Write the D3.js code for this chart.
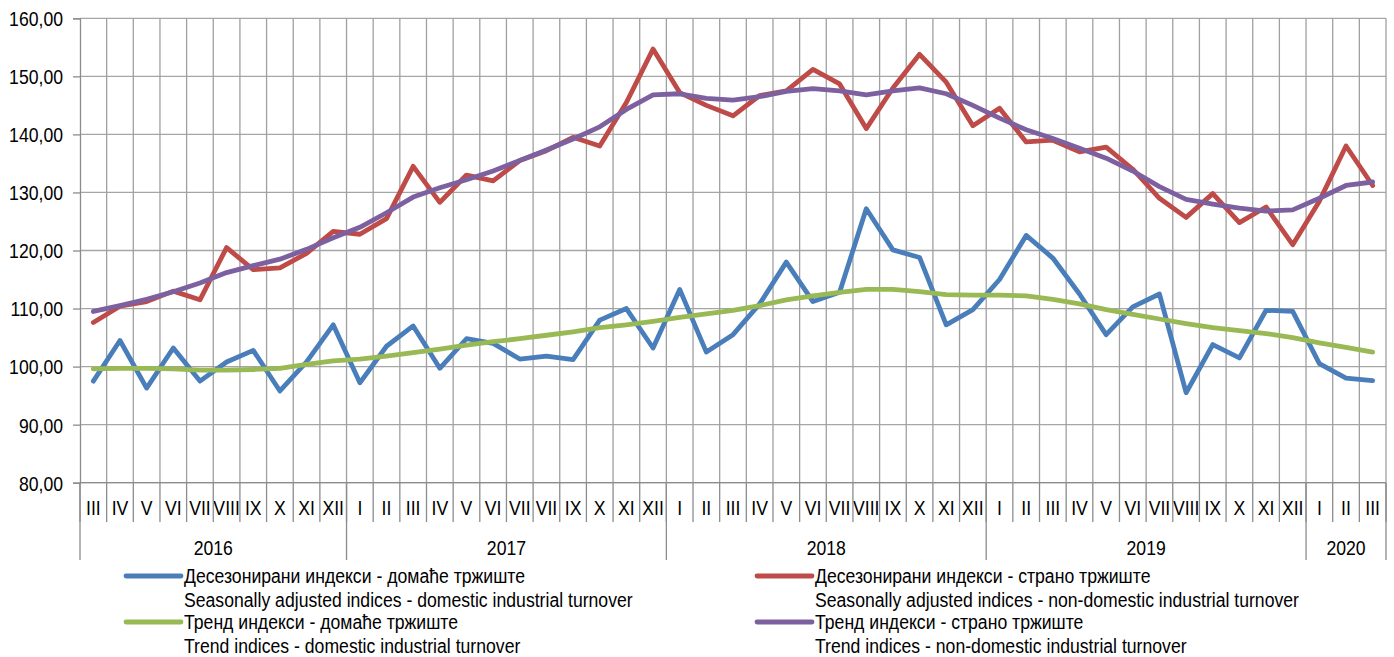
<!DOCTYPE html>
<html><head><meta charset="utf-8">
<script src="https://cdn.jsdelivr.net/npm/d3@7"></script>
<style>
body{margin:0;background:#fff;}
text{font-family:"Liberation Sans Narrow","Arial Narrow","Liberation Sans",sans-serif;fill:#000;}
</style></head><body>
<svg id="c" width="1394" height="657"></svg>
<script>
const months = ["III","IV","V","VI","VII","VIII","IX","X","XI","XII",
 "I","II","III","IV","V","VI","VII","VII","IX","X","XI","XII",
 "I","II","III","IV","V","VI","VII","VIII","IX","X","XI","XII",
 "I","II","III","IV","V","VI","VII","VIII","IX","X","XI","XII",
 "I","II","III"];
const years = [{label:"2016",count:10},{label:"2017",count:12},{label:"2018",count:12},{label:"2019",count:12},{label:"2020",count:3}];
const yTicks = [80,90,100,110,120,130,140,150,160];

const domesticSA = [97.5,104.5,96.3,103.2,97.5,100.8,102.8,95.8,100.8,107.2,
 97.2,103.5,107.0,99.7,104.8,104.0,101.3,101.8,101.2,108.0,110.0,103.2,
 113.3,102.5,105.5,110.8,118.0,111.2,112.8,127.2,120.1,118.8,107.2,109.8,
 115.0,122.6,118.7,112.5,105.5,110.3,112.5,95.5,103.8,101.5,109.7,109.5,
 100.5,98.0,97.6];
const foreignSA = [107.6,110.4,111.2,113.0,111.5,120.5,116.7,117.0,119.5,123.3,
 122.8,125.5,134.5,128.3,133.0,132.0,135.5,137.2,139.5,138.0,145.5,154.7,
 147.2,145.0,143.2,146.7,147.5,151.2,148.7,141.0,148.0,153.8,149.0,141.5,
 144.5,138.7,139.0,137.0,137.8,134.0,129.0,125.7,129.8,124.8,127.5,121.0,
 128.5,138.0,131.2];
const domesticTrend = [99.6,99.7,99.7,99.6,99.4,99.4,99.5,99.7,100.4,101.0,
 101.3,101.8,102.4,103.0,103.7,104.3,104.8,105.4,106.0,106.7,107.2,107.8,
 108.5,109.1,109.7,110.5,111.5,112.2,112.8,113.3,113.3,112.9,112.4,112.3,
 112.3,112.2,111.6,110.8,109.8,109.0,108.2,107.4,106.7,106.2,105.7,105.0,
 104.1,103.3,102.5];
const foreignTrend = [109.5,110.5,111.6,112.9,114.4,116.2,117.4,118.5,120.2,122.2,
 124.0,126.5,129.2,130.8,132.2,133.7,135.5,137.3,139.2,141.3,144.3,146.8,
 147.0,146.2,145.9,146.5,147.4,147.9,147.5,146.8,147.5,148.0,147.0,145.0,
 142.8,140.8,139.3,137.6,135.9,133.7,131.0,128.8,128.0,127.3,126.8,127.0,
 129.0,131.2,131.8];

const series = [
 {name:["Десезонирани индекси - домаће тржиште","Seasonally adjusted indices - domestic industrial turnover"], values:domesticSA, color:"#4a7ebb"},
 {name:["Десезонирани индекси - страно тржиште","Seasonally adjusted indices - non-domestic industrial turnover"], values:foreignSA, color:"#be4b48"},
 {name:["Тренд индекси - домаће тржиште","Trend indices - domestic industrial turnover"], values:domesticTrend, color:"#98b954"},
 {name:["Тренд индекси - страно тржиште","Trend indices - non-domestic industrial turnover"], values:foreignTrend, color:"#7d60a0"}
];

const FS = "21px", SX = 0.84;
const L=80, R=1386, T=18.3, B=482.7;
const svg = d3.select("#c");
const idx = d3.range(months.length);
const xb = d3.scaleBand().domain(idx).range([L,R]).padding(0);
const y = d3.scaleLinear().domain([80,160]).range([B,T]);
const bw = xb.bandwidth();

function ntext(parent, x, yy, str, anchor){
  const g = parent.append("g").attr("transform",`translate(${x},${yy}) scale(${SX},1)`);
  g.append("text").attr("text-anchor",anchor||"start").attr("dy","0.35em").style("font-size",FS).text(str);
  return g;
}

// horizontal gridlines
svg.append("g").selectAll("line").data(yTicks).join("line")
 .attr("x1",L).attr("x2",R).attr("y1",d=>y(d)).attr("y2",d=>y(d))
 .attr("stroke","#a6a6a6").attr("stroke-width",1.3);
// vertical gridlines
svg.append("g").selectAll("line").data(d3.range(1,months.length+1)).join("line")
 .attr("x1",d=>L+d*bw).attr("x2",d=>L+d*bw).attr("y1",T).attr("y2",B)
 .attr("stroke","#a0a0a0").attr("stroke-width",1.3);

// y axis
const yAxis = d3.axisLeft(y).tickValues(yTicks).tickSize(7).tickPadding(0)
 .tickFormat(d=>d3.format(".2f")(d).replace(".",","));
const ya = svg.append("g").attr("transform",`translate(${L},0)`).call(yAxis);
ya.select(".domain").attr("stroke","#8c8c8c").attr("stroke-width",1.3);
ya.selectAll(".tick line").attr("stroke","#8c8c8c").attr("stroke-width",1.3);
ya.selectAll(".tick text").style("font-size",FS).attr("fill","#000")
  .attr("x",-17/SX).attr("dy","0.35em").attr("transform",`scale(${SX},1)`);

// x axis baseline
svg.append("line").attr("x1",L).attr("x2",R).attr("y1",B).attr("y2",B).attr("stroke","#8c8c8c").attr("stroke-width",1.3);

// category labels via band axis
const xAxis = d3.axisBottom(xb).tickSize(0).tickFormat(i=>months[i]);
const xa = svg.append("g").attr("transform",`translate(0,${B})`).call(xAxis);
xa.select(".domain").remove();
xa.selectAll(".tick text").style("font-size",FS).attr("fill","#000").attr("y",25).attr("dy","0.35em")
  .attr("transform",`scale(${SX},1)`);
svg.append("g").selectAll("line").data(d3.range(0,months.length+1)).join("line")
 .attr("x1",d=>L+d*bw).attr("x2",d=>L+d*bw).attr("y1",B).attr("y2",522)
 .attr("stroke","#8c8c8c").attr("stroke-width",1.3);

// year separators and labels
let cum=0; const bounds=[0];
years.forEach(yv=>{cum+=yv.count; bounds.push(cum);});
svg.append("g").selectAll("line").data(bounds).join("line")
 .attr("x1",d=>L+d*bw).attr("x2",d=>L+d*bw).attr("y1",B).attr("y2",560)
 .attr("stroke","#8c8c8c").attr("stroke-width",1.3);
const yg = svg.append("g");
years.forEach((d,i)=>ntext(yg, L+(bounds[i]+bounds[i+1])/2*bw, 548, d.label, "middle"));

// lines
const line = d3.line().x((d,i)=>xb(i)+bw/2).y(d=>y(d));
const order=[1,3,0,2];
order.forEach(k=>{
 const s=series[k];
 svg.append("path").datum(s.values).attr("d",line).attr("fill","none")
  .attr("stroke",s.color).attr("stroke-width",4.8).attr("stroke-linejoin","round").attr("stroke-linecap","round");
});

// legend
const legPos=[{x:126,y:576},{x:757,y:576},{x:126,y:622},{x:757,y:622}];
series.forEach((s,k)=>{
 const p=legPos[k];
 const g=svg.append("g");
 g.append("line").attr("x1",p.x).attr("x2",p.x+55).attr("y1",p.y).attr("y2",p.y)
  .attr("stroke",s.color).attr("stroke-width",4.8).attr("stroke-linecap","round");
 ntext(g, p.x+58, p.y, s.name[0]);
 ntext(g, p.x+58, p.y+23.5, s.name[1]);
});
</script></body></html>
